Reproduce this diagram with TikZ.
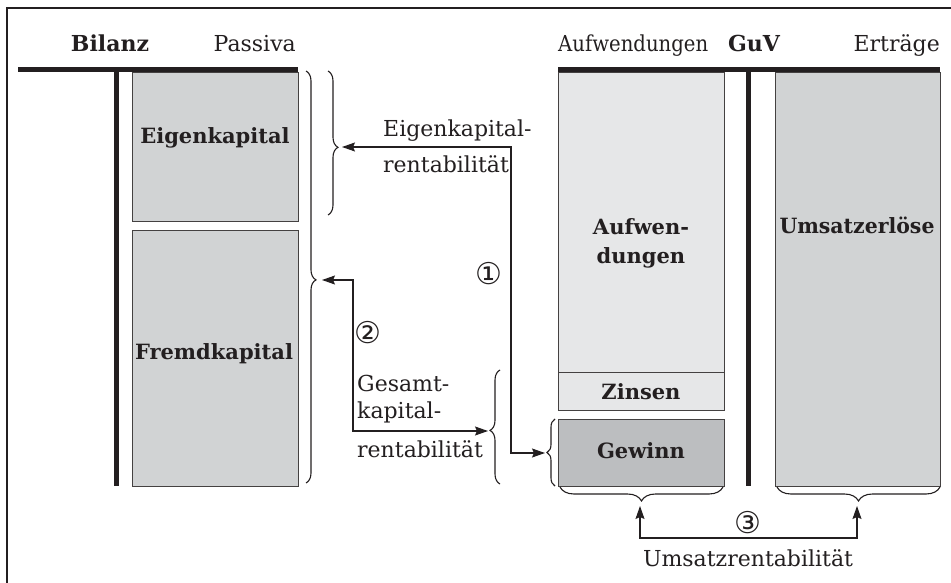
\documentclass[tikz,border=0pt]{standalone}
\usepackage{fontspec}
\setmainfont{DejaVu Serif}
\newfontfamily\symf{DejaVu Sans}
\usetikzlibrary{arrows.meta,decorations.pathreplacing,calc}
\definecolor{ink}{HTML}{231F20}
\definecolor{midgray}{HTML}{D1D3D4}
\definecolor{lightgray}{HTML}{E6E7E8}
\definecolor{darkgray}{HTML}{BCBEC0}
\begin{document}
\begin{tikzpicture}[x=1pt,y=-1pt,
  thinln/.style={line width=1.1pt, draw=ink},
  bar/.style={line width=5pt, draw=ink},
  box/.style={draw=ink!85, line width=1.1pt, inner sep=0pt, anchor=north west},
  lbl/.style={font=\fontsize{22}{26}\selectfont, text=ink, inner sep=0pt, anchor=base},
  blbl/.style={font=\fontsize{21}{28}\selectfont\bfseries, text=ink, inner sep=0pt, anchor=base},
  num/.style={font=\fontsize{30}{32}\selectfont\symf, text=ink, inner sep=0pt},
  brc/.style={thinln, decorate, decoration={brace, amplitude=#1}},
  dblarr/.style={thinln, {Stealth[length=13pt,width=9pt,inset=2pt]}-{Stealth[length=13pt,width=9pt,inset=2pt]}},
]
\useasboundingbox (0,0) rectangle (951,583);
% frame
\draw[line width=1.2pt, draw=ink] (7,590) -- (7,8) -- (960,8);

% ---------- Bilanz ----------
\node[lbl] (bil) at (110,52) {\bfseries Bilanz};
\node[lbl, anchor=base east] (pas) at (296,52) {Passiva};
\node[box, fill=midgray, minimum width=166pt, minimum height=149pt] (ek) at (132,72) {};
\node[box, fill=midgray, minimum width=166pt, minimum height=256pt] (fk) at (132,230) {};
\draw[bar] (18,69.5) -- (298,69.5);
\draw[bar] (116,69.5) -- (116,486);
\node[blbl] (ekl) at (215,144) {Eigenkapital};
\node[blbl] (fkl) at (214,359) {Fremdkapital};

% ---------- GuV ----------
\node[lbl, anchor=base west] (aufh) at (558,52) {\resizebox{150pt}{\height}{Aufwendungen}};
\node[lbl, anchor=base west] (guv) at (728,52) {\bfseries GuV};
\node[lbl, anchor=base east] (ert) at (940,52) {Erträge};
\node[box, fill=lightgray, minimum width=166pt, minimum height=300pt] (auf) at (558,72) {};
\node[box, fill=lightgray, minimum width=166pt, minimum height=38pt] (zin) at (558,372) {};
\node[box, fill=darkgray, minimum width=166pt, minimum height=67pt] (gew) at (558,419) {};
\node[box, fill=midgray, minimum width=165pt, minimum height=414pt] (ums) at (775,72) {};
\draw[bar] (558,69.5) -- (940,69.5);
\draw[bar] (748.5,69.5) -- (748.5,486);
\node[blbl] (aufl) at (641,234) {Aufwen-};
\node[blbl] (aufl2) at (641,263) {dungen};
\node[blbl] (umsl) at (857,233) {\resizebox{155pt}{\height}{Umsatzerlöse}};
\node[blbl] (zinl) at (641,399) {Zinsen};
\node[blbl] (gewl) at (641,458) {Gewinn};

% ---------- braces ----------
\draw[brc=10pt, decoration={aspect=0.507}] (306,71) -- (306,483);
\draw[brc=10pt, decoration={aspect=0.53}] (328,71) -- (328,215);
\draw[brc=10pt, decoration={aspect=0.47}] (500,484) -- (500,370);
\draw[brc=8pt] (555,486) -- (555,419);
\draw[brc=14pt] (723,487) -- (560,487);
\draw[brc=14pt] (940,487) -- (777,487);

\coordinate (bigtip) at (322,280);
\coordinate (ektip) at (342,147);
\coordinate (gestip) at (488,431);
\coordinate (gewtip) at (545,453);
\coordinate (auftip) at (640,506);
\coordinate (umstip) at (857,506);
\coordinate (a1) at (511,147);
\coordinate (a2) at (353,280);
\coordinate (a3) at (640,538);

% ---------- arrows ----------
\draw[dblarr] (ektip) -- (a1) |- (gewtip);
\draw[dblarr] (bigtip) -- (a2) |- (gestip);
\draw[dblarr] (auftip) -- (a3) -| (umstip);

% ---------- labels ----------
\node[lbl, anchor=base west] (ekr1) at (383,137) {Eigenkapital-};
\node[lbl, anchor=base west] (ekr2) at (383,173) {rentabilität};
\node[num] (n1) at (489,274) {①};
\node[num] (n2) at (368,333) {②};
\node[lbl, anchor=base west] (gk1) at (357,391) {Gesamt-};
\node[lbl, anchor=base west] (gk2) at (357,418) {kapital-};
\node[lbl, anchor=base west] (gk3) at (357,457) {rentabilität};
\node[num] (n3) at (748,523) {③};
\node[lbl] (umr) at (748,566) {Umsatzrentabilität};
\end{tikzpicture}
\end{document}
